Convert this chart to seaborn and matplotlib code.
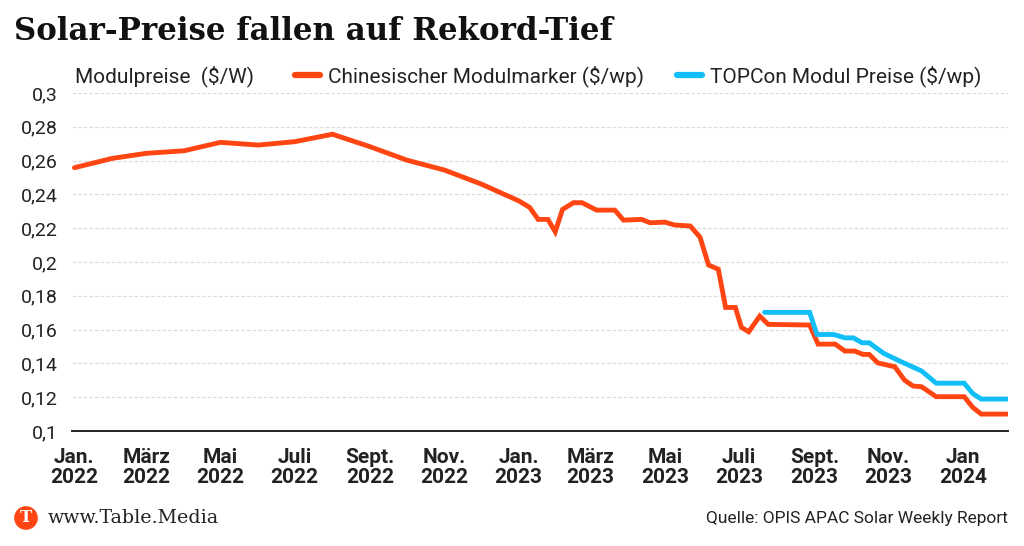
import matplotlib
matplotlib.use("Agg")
import matplotlib.pyplot as plt
import matplotlib.dates as mdates
from matplotlib.ticker import FixedLocator, FuncFormatter
import seaborn as sns
import pandas as pd

# ---------------- data ----------------
cn_dates = [
    "2022-01-01", "2022-02-01", "2022-03-01", "2022-04-01", "2022-05-01", "2022-06-01",
    "2022-07-01", "2022-08-01", "2022-09-01", "2022-10-01", "2022-11-01", "2022-12-01",
    "2023-01-01", "2023-01-10", "2023-01-17", "2023-01-25", "2023-01-31", "2023-02-06",
    "2023-02-15", "2023-02-22", "2023-03-06", "2023-03-21", "2023-03-28", "2023-04-12",
    "2023-04-19", "2023-05-01", "2023-05-09", "2023-05-22", "2023-05-30", "2023-06-06",
    "2023-06-14", "2023-06-20", "2023-06-28", "2023-07-03", "2023-07-09", "2023-07-18",
    "2023-07-25", "2023-08-28", "2023-09-04", "2023-09-18", "2023-09-26", "2023-10-04",
    "2023-10-11", "2023-10-16", "2023-10-23", "2023-11-06", "2023-11-14", "2023-11-21",
    "2023-11-28", "2023-12-10", "2024-01-02", "2024-01-09", "2024-01-16", "2024-02-06",
]
cn_values = [
    0.2558, 0.2613, 0.2643, 0.2658, 0.2708, 0.2692,
    0.2712, 0.2756, 0.2682, 0.2603, 0.2544, 0.2462,
    0.2362, 0.2323, 0.2252, 0.2252, 0.2179, 0.2311,
    0.2351, 0.2351, 0.2307, 0.2307, 0.2248, 0.2252,
    0.2232, 0.2236, 0.2219, 0.2213, 0.2146, 0.1982,
    0.1957, 0.1731, 0.1731, 0.1613, 0.1587, 0.1680,
    0.1631, 0.1627, 0.1514, 0.1514, 0.1473, 0.1473,
    0.1453, 0.1453, 0.1403, 0.1380, 0.1301, 0.1266,
    0.1262, 0.1203, 0.1203, 0.1140, 0.1100, 0.1100,
]
topcon_dates = [
    "2023-07-22", "2023-08-28", "2023-09-03", "2023-09-17", "2023-09-26", "2023-10-03",
    "2023-10-10", "2023-10-16", "2023-10-28", "2023-11-10", "2023-11-28", "2023-12-10",
    "2024-01-02", "2024-01-09", "2024-01-16", "2024-02-06",
]
topcon_values = [
    0.1702, 0.1702, 0.1571, 0.1571, 0.1551, 0.1551,
    0.1522, 0.1522, 0.1459, 0.1414, 0.1355, 0.1283,
    0.1283, 0.1222, 0.1189, 0.1189,
]
series_names = ["Chinesischer Modulmarker ($/wp)", "TOPCon Modul Preise ($/wp)"]
tick_dates = ["2022-01-01", "2022-03-01", "2022-05-01", "2022-07-01", "2022-09-01",
              "2022-11-01", "2023-01-01", "2023-03-01", "2023-05-01", "2023-07-01",
              "2023-09-01", "2023-11-01", "2024-01-01"]
tick_labels = ["Jan.\n2022", "März\n2022", "Mai\n2022", "Juli\n2022", "Sept.\n2022",
               "Nov.\n2022", "Jan.\n2023", "März\n2023", "Mai\n2023", "Juli\n2023",
               "Sept.\n2023", "Nov.\n2023", "Jan\n2024"]
y_ticks = [0.10, 0.12, 0.14, 0.16, 0.18, 0.20, 0.22, 0.24, 0.26, 0.28, 0.30]

ORANGE = "#FF4612"
BLUE = "#12BEF7"
TEXT = "#222222"

df = pd.concat([
    pd.DataFrame({"date": pd.to_datetime(cn_dates), "value": cn_values, "series": series_names[0]}),
    pd.DataFrame({"date": pd.to_datetime(topcon_dates), "value": topcon_values, "series": series_names[1]}),
])

# ---------------- figure ----------------
sns.set_theme(style="white")
plt.rcParams["font.family"] = ["Roboto", "DejaVu Sans"]

fig = plt.figure(figsize=(10.24, 5.46), dpi=100)
ax = fig.add_axes([72 / 1024, 1 - 431 / 546, (1008 - 72) / 1024, (431 - 93) / 546])

sns.lineplot(data=df, x="date", y="value", hue="series", hue_order=series_names,
             palette=[ORANGE, BLUE], linewidth=3.5, ax=ax, legend=True,
             solid_joinstyle="miter")

ax.set_xlim(pd.Timestamp("2021-12-30"), pd.Timestamp("2024-02-07"))
ax.set_ylim(0.1, 0.3)
ax.set_xlabel("")
ax.set_ylabel("")

ax.yaxis.set_major_locator(FixedLocator(y_ticks))
ax.yaxis.set_major_formatter(FuncFormatter(lambda v, p: f"{v:.2f}".rstrip("0").rstrip(".").replace(".", ",")))
ax.xaxis.set_major_locator(FixedLocator([mdates.date2num(pd.Timestamp(d)) for d in tick_dates]))
ax.set_xticklabels(tick_labels)

ax.tick_params(axis="y", length=0, pad=10, labelsize=14, labelcolor=TEXT)
ax.tick_params(axis="x", length=0, pad=12, labelsize=15, labelcolor=TEXT)
for lab in ax.get_xticklabels():
    lab.set_fontweight("bold")
    lab.set_linespacing(1.1)

ax.grid(axis="y", color="#dddddd", linestyle=(0, (3, 1.5)), linewidth=0.9)
ax.grid(axis="x", visible=False)
for s in ["top", "right", "left"]:
    ax.spines[s].set_visible(False)
ax.spines["bottom"].set_color("#222222")
ax.spines["bottom"].set_linewidth(1.4)
ax.set_axisbelow(True)

# legend at top
handles, labels = ax.get_legend_handles_labels()
ax.get_legend().remove()
for h in handles:
    h.set_linewidth(4.5)
    h.set_solid_capstyle("round")
fig.legend(handles, labels, loc="center left", bbox_to_anchor=(295 / 1024, 1 - 76 / 546),
           ncol=2, frameon=False, handlelength=1.2, handletextpad=0.4, columnspacing=1.55,
           fontsize=15, labelcolor=TEXT, borderaxespad=0, borderpad=0)

fig.text(75 / 1024, 1 - 76 / 546, "Modulpreise  ($/W)", fontsize=15, color=TEXT,
         ha="left", va="center")

# title
fig.text(14 / 1024, 1 - 32 / 546, "Solar-Preise fallen auf Rekord-Tief", fontsize=22.2,
         fontweight="bold", family=["DejaVu Serif"], color="#111111", ha="left", va="center")

# footer
fig.text(26 / 1024, 1 - 518 / 546, "T", fontsize=12, fontweight="bold", family=["DejaVu Serif"],
         color="white", ha="center", va="center",
         bbox=dict(boxstyle="circle,pad=0.2", fc=ORANGE, ec="none"))
fig.text(48 / 1024, 1 - 518 / 546, "www.Table.Media", fontsize=13.7, family=["DejaVu Serif"],
         color=TEXT, ha="left", va="center")
fig.text(1008 / 1024, 1 - 518 / 546, "Quelle: OPIS APAC Solar Weekly Report", fontsize=12.5,
         color=TEXT, ha="right", va="center")

fig.savefig("out.png", dpi=100)
